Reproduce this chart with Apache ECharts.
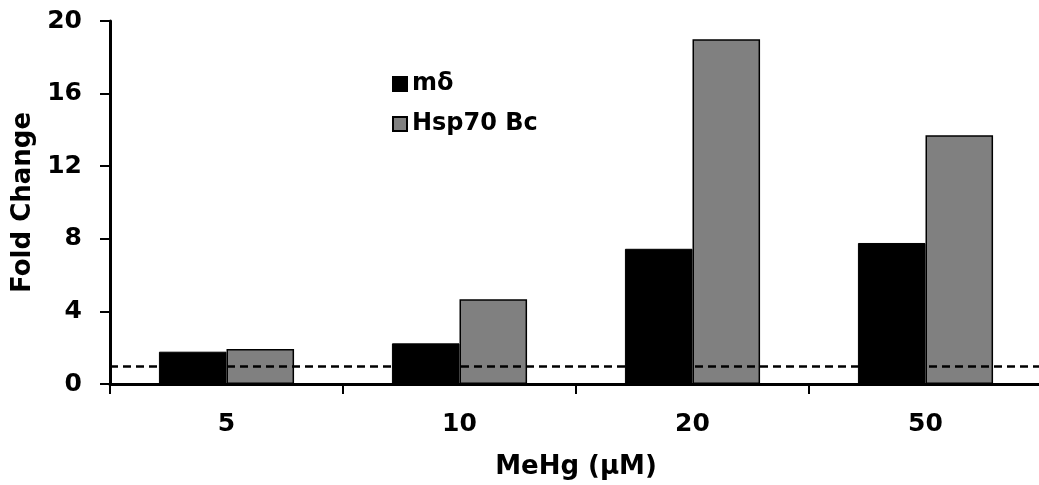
<!DOCTYPE html>
<html>
<head>
<meta charset="utf-8">
<script src="https://cdn.jsdelivr.net/npm/echarts@6/dist/echarts.min.js"></script>
<style>
  html, body { margin: 0; padding: 0; background: #fff; }
  #chart { width: 1039px; height: 485px; }
</style>
</head>
<body>
<div id="chart"></div>
<script>
// data
const doses = ['5', '10', '20', '50']
const mDelta = [1.78, 2.24, 7.45, 7.77]
const hsp70 = [1.93, 4.67, 18.99, 13.7]
const baseline = 1

const font = 'DejaVu Sans, Verdana, sans-serif'

const chart = echarts.init(document.getElementById('chart'))

chart.setOption({
  animation: false,
  backgroundColor: '#fff',
  // the last category runs a few px past the right edge in the original
  grid: { left: 110, top: 21, width: 932, height: 363, outerBoundsMode: 'none', containLabel: false },
  legend: {
    orient: 'vertical',
    left: 387,
    top: 67,
    itemWidth: 14,
    itemHeight: 14,
    itemGap: 16,
    icon: 'rect',
    textStyle: { fontFamily: font, fontWeight: 'bold', fontSize: 24, lineHeight: 24, color: '#000', padding: [0, 0, 0, 0] },
    data: ['mδ', 'Hsp70 Bc']
  },
  xAxis: {
    type: 'category',
    data: doses,
    name: 'MeHg (µM)',
    nameLocation: 'middle',
    nameGap: 70,
    nameTextStyle: { fontFamily: font, fontWeight: 'bold', fontSize: 26, color: '#000' },
    axisLine: { lineStyle: { color: '#000', width: 3 } },
    axisTick: { show: true, length: 10, lineStyle: { color: '#000', width: 2 } },
    axisLabel: { fontFamily: font, fontWeight: 'bold', fontSize: 25, color: '#000', margin: 28 }
  },
  yAxis: {
    type: 'value',
    min: 0,
    max: 20,
    interval: 4,
    name: 'Fold Change',
    nameLocation: 'middle',
    nameGap: 70,
    nameTextStyle: { fontFamily: font, fontWeight: 'bold', fontSize: 26, color: '#000' },
    splitLine: { show: false },
    axisLine: { show: true, lineStyle: { color: '#000', width: 3 } },
    axisTick: { show: true, length: 10, lineStyle: { color: '#000', width: 2 } },
    axisLabel: { fontFamily: font, fontWeight: 'bold', fontSize: 25, color: '#000', margin: 28 }
  },
  series: [
    {
      name: 'mδ',
      type: 'bar',
      data: mDelta,
      barGap: '0%',
      barCategoryGap: '42%',
      itemStyle: { color: '#000', borderColor: '#000', borderWidth: 1 },
      z: 2
    },
    {
      name: 'Hsp70 Bc',
      type: 'bar',
      data: hsp70,
      itemStyle: { color: '#808080', borderColor: '#000', borderWidth: 1.5 },
      z: 2,
      markLine: {
        silent: true,
        symbol: 'none',
        label: { show: false },
        lineStyle: { color: '#000', width: 2.5, type: [8, 5] },
        data: [{ yAxis: baseline }],
        z: 5
      }
    }
  ]
})
</script>
</body>
</html>
